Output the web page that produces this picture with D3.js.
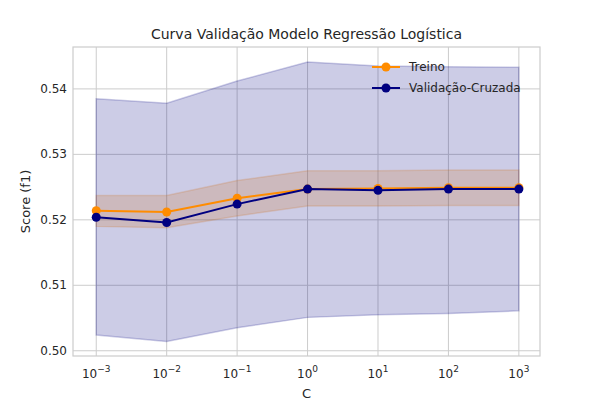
<!DOCTYPE html>
<html><head><meta charset="utf-8">
<script src="https://cdn.jsdelivr.net/npm/d3@7"></script>
<style>body{margin:0;background:#fff}text{font-family:"DejaVu Sans",sans-serif}</style>
</head><body>
<svg id="main" width="600" height="400"></svg>
<script>
var exps = [-3, -2, -1, 0, 1, 2, 3]
var trainMean = [0.5214, 0.5212, 0.5233, 0.5247, 0.5248, 0.5249, 0.5249]
var trainUp = [0.5237, 0.5237, 0.5260, 0.5275, 0.5275, 0.5276, 0.5276]
var trainLo = [0.5190, 0.5188, 0.5206, 0.5221, 0.5221, 0.5222, 0.5222]
var valMean = [0.5204, 0.5196, 0.5224, 0.5247, 0.5245, 0.5247, 0.5247]
var valUp = [0.5385, 0.5378, 0.5412, 0.5441, 0.5435, 0.5434, 0.5433]
var valLo = [0.5024, 0.5014, 0.5035, 0.5051, 0.5055, 0.5057, 0.5061]
var yTicks = [0.50, 0.51, 0.52, 0.53, 0.54]

var svg = d3.select('#main')
var L = 73, R = 540, T = 47, B = 356
var x = d3.scaleLinear().domain([-3.33, 3.30]).range([L, R])
var y = d3.scaleLinear().domain([0.4992, 0.5464]).range([B, T])

// grid
svg.selectAll('.gx').data(exps).enter().append('line')
    .attr('x1', d => x(d)).attr('x2', d => x(d)).attr('y1', T).attr('y2', B)
    .attr('stroke', '#cccccc').attr('stroke-width', 1)
svg.selectAll('.gy').data(yTicks).enter().append('line')
    .attr('y1', d => y(d)).attr('y2', d => y(d)).attr('x1', L).attr('x2', R)
    .attr('stroke', '#cccccc').attr('stroke-width', 1)

function band(up, lo, col) {
    var area = d3.area().x((d, i) => x(exps[i])).y0((d, i) => y(lo[i])).y1(d => y(d))
    svg.append('path').datum(up).attr('d', area)
        .attr('fill', col).attr('fill-opacity', 0.2)
        .attr('stroke', col).attr('stroke-opacity', 0.2).attr('stroke-width', 1.5)
}
band(trainUp, trainLo, 'darkorange')
band(valUp, valLo, 'navy')

function series(vals, col) {
    var line = d3.line().x((d, i) => x(exps[i])).y(d => y(d))
    svg.append('path').datum(vals).attr('d', line).attr('fill', 'none')
        .attr('stroke', col).attr('stroke-width', 2)
    svg.append('g').selectAll('circle').data(vals).enter().append('circle')
        .attr('cx', (d, i) => x(exps[i])).attr('cy', d => y(d)).attr('r', 4.5).attr('fill', col)
}
series(trainMean, 'darkorange')
series(valMean, 'navy')

// frame
svg.append('rect').attr('x', L).attr('y', T).attr('width', R - L).attr('height', B - T)
    .attr('fill', 'none').attr('stroke', '#cccccc').attr('stroke-width', 1.2)

// y ticks
svg.selectAll('.yt').data(yTicks).enter().append('text')
    .attr('x', L - 6).attr('y', d => y(d) + 4).attr('text-anchor', 'end')
    .style('font-size', '12px').attr('fill', '#262626').text(d => d.toFixed(2))
// x ticks
var xt = svg.selectAll('.xt').data(exps).enter().append('text')
    .attr('x', d => x(d)).attr('y', B + 22).attr('text-anchor', 'middle')
    .style('font-size', '12px').attr('fill', '#262626')
xt.append('tspan').text('10')
xt.append('tspan').attr('dy', -6).style('font-size', '9px').text(d => d < 0 ? '\u2212' + (-d) : d)

svg.append('text').attr('x', (L + R) / 2).attr('y', 398).attr('text-anchor', 'middle')
    .style('font-size', '13px').attr('fill', '#262626').text('C')
svg.append('text').attr('transform', 'translate(30,' + (T + B) / 2 + ') rotate(-90)')
    .attr('text-anchor', 'middle').style('font-size', '13px').attr('fill', '#262626').text('Score (f1)')
svg.append('text').attr('x', (L + R) / 2).attr('y', 39).attr('text-anchor', 'middle')
    .style('font-size', '14px').attr('fill', '#262626').text('Curva Validação Modelo Regressão Logística')

// legend
var leg = [['Treino', 'darkorange'], ['Validação-Cruzada', 'navy']]
var lg = svg.selectAll('.lg').data(leg).enter().append('g')
    .attr('transform', (d, i) => 'translate(372,' + (67 + i * 21) + ')')
lg.append('line').attr('x1', 0).attr('x2', 28).attr('stroke', d => d[1]).attr('stroke-width', 2)
lg.append('circle').attr('cx', 14).attr('r', 4.5).attr('fill', d => d[1])
lg.append('text').attr('x', 37).attr('y', 4).style('font-size', '12px').attr('fill', '#262626').text(d => d[0])
</script>
</body></html>
